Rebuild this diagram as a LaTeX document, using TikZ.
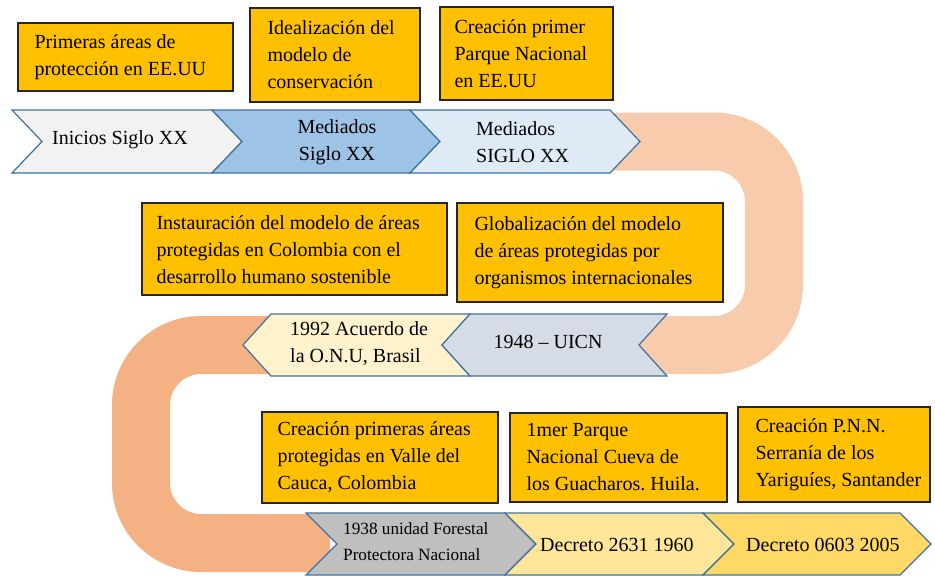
\documentclass[tikz,border=0pt]{standalone}
\usepackage{fontspec}
\setmainfont{Liberation Serif}
\frenchspacing
\definecolor{boxfill}{HTML}{FFC000}
\definecolor{boxline}{HTML}{262626}
\definecolor{chevline}{HTML}{41719C}
\definecolor{bandA}{HTML}{F8CBAD}
\definecolor{bandB}{HTML}{F4B183}
\definecolor{cGray}{HTML}{F2F2F2}
\definecolor{cBlue}{HTML}{9DC3E6}
\definecolor{cLightBlue}{HTML}{DEEBF7}
\definecolor{cCream}{HTML}{FFF2CC}
\definecolor{cSlate}{HTML}{D6DCE5}
\definecolor{cSilver}{HTML}{BFBFBF}
\definecolor{cYellowA}{HTML}{FFE699}
\definecolor{cYellowB}{HTML}{FFD966}
\newcommand\mychevR[6]{\filldraw[chev, fill=#6] (#1,#3) -- (#2,#3) -- ({#2+#5},{(#3+#4)/2}) -- (#2,#4) -- (#1,#4) -- ({#1+#5},{(#3+#4)/2}) -- cycle;}
\newcommand\mychevL[6]{\filldraw[chev, fill=#6] ({#1+#5},#3) -- (#2,#3) -- ({#2-#5},{(#3+#4)/2}) -- (#2,#4) -- ({#1+#5},#4) -- (#1,{(#3+#4)/2}) -- cycle;}
\begin{document}
\begin{tikzpicture}[x=1pt,y=-1pt,
  ybox/.style={draw=boxline, line width=1.3pt, fill=boxfill, inner sep=0pt},
  boxtext/.style={inner sep=0pt, align=left, anchor=west, font=\fontsize{20}{27}\selectfont},
  chev/.style={draw=chevline, line width=1.2pt, line join=miter},
  lab/.style={inner sep=0pt, font=\fontsize{20}{27}\selectfont},
  smalllab/.style={inner sep=0pt, font=\fontsize{17.2}{27}\selectfont},
  band/.style={line width=58pt, rounded corners=60pt}]
\useasboundingbox (0,0) rectangle (935,576);
% serpentine band
\draw[band, draw=bandA] (590,141.5) -- (774,141.5) -- (774,345) -- (450,345);
\draw[band, draw=bandB] (452,345) -- (141,345) -- (141,543) -- (330,543);
% row 1
\mychevR{12}{212}{110}{173}{30}{cGray}
\mychevR{212}{410}{110}{173}{30}{cBlue}
\mychevR{410}{610}{110}{173}{30}{cLightBlue}
% row 2
\mychevL{243}{470}{314}{376}{28}{cCream}
\mychevL{442}{667}{314}{376}{28}{cSlate}
% row 3
\mychevR{306}{505}{513}{575}{31}{cSilver}
\mychevR{505}{703}{513}{575}{31}{cYellowA}
\mychevR{703}{900}{513}{575}{31}{cYellowB}
% chevron labels
\node[lab, anchor=west] (c1) at (52,140) {Inicios Siglo XX};
\node[lab, align=center] (c2) at (337,142) {Mediados\\Siglo XX};
\node[lab, align=left, anchor=west] (c3) at (476,142) {Mediados\\SIGLO XX};
\node[lab, align=left, anchor=west] (c4) at (290,344) {1992 Acuerdo de\\la O.N.U, Brasil};
\node[lab] (c5) at (548,342) {1948 – UICN};
\node[smalllab, align=left, anchor=west] (c6) at (343,542) {1938 unidad Forestal\\[-1pt]Protectora Nacional};
\node[lab, anchor=west] (c7) at (540,545) {Decreto 2631 1960};
\node[lab, anchor=west] (c8) at (746,545) {Decreto 0603 2005};
% yellow boxes
\node[ybox, minimum width=215pt, minimum height=68pt] (b1) at (125.5,57) {};
\node[boxtext] (t1) at ([xshift=17pt]b1.west) {Primeras áreas de\\protección en EE.UU};
\node[ybox, minimum width=170pt, minimum height=94pt] (b2) at (335,55) {};
\node[boxtext] (t2) at ([xshift=18pt]b2.west) {Idealización del\\modelo de\\conservación};
\node[ybox, minimum width=173pt, minimum height=93pt] (b3) at (526.5,53.5) {};
\node[boxtext] (t3) at ([xshift=15pt]b3.west) {Creación primer\\Parque Nacional\\en EE.UU};
\node[ybox, minimum width=305pt, minimum height=92pt] (b4) at (294.5,249) {};
\node[boxtext] (t4) at ([xshift=15pt,yshift=-1pt]b4.west) {Instauración del modelo de áreas\\protegidas en Colombia con el\\desarrollo humano sostenible};
\node[ybox, minimum width=266pt, minimum height=99pt] (b5) at (590,252.5) {};
\node[boxtext] (t5) at ([xshift=18pt]b5.west) {Globalización del modelo\\de áreas protegidas por\\organismos internacionales};
\node[ybox, minimum width=236pt, minimum height=91pt] (b6) at (380,457.5) {};
\node[boxtext] (t6) at ([xshift=16pt]b6.west) {Creación primeras áreas\\protegidas en Valle del\\Cauca, Colombia};
\node[ybox, minimum width=217pt, minimum height=89pt] (b7) at (618.5,457.5) {};
\node[boxtext] (t7) at ([xshift=17pt]b7.west) {1mer Parque\\Nacional Cueva de\\los Guacharos. Huila.};
\node[ybox, minimum width=192pt, minimum height=95pt] (b8) at (834,454.5) {};
\node[boxtext] (t8) at ([xshift=18pt]b8.west) {Creación P.N.N.\\Serranía de los\\Yariguíes, Santander};
\end{tikzpicture}
\end{document}
